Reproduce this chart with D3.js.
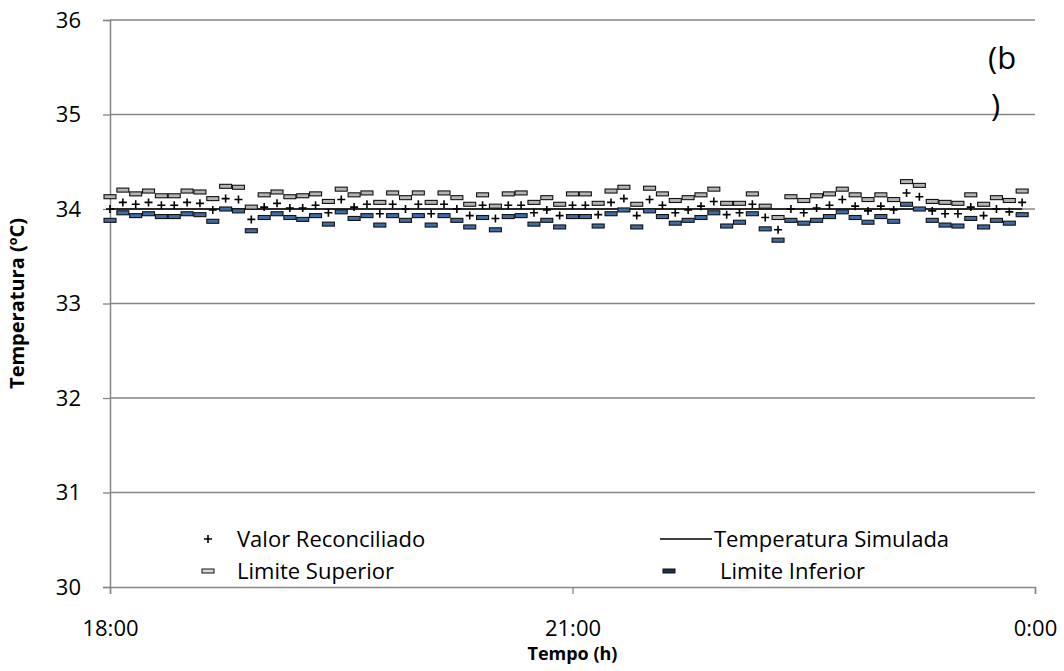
<!DOCTYPE html>
<html>
<head>
<meta charset="utf-8">
<script src="https://cdn.jsdelivr.net/npm/d3@7"></script>
<style>
  body { margin: 0; background: #fff; }
  svg text { font-family: "Open Sans", "Noto Sans", sans-serif; fill: #000; }
</style>
</head>
<body>
<svg id="chart" width="1064" height="671"></svg>
<script>
// minutes after 18:00, one reading every 5 min
var minutes = d3.range(0, 360, 5);

var reconciled = [
  34.00, 34.07, 34.05, 34.07, 34.04, 34.04, 34.07, 34.06, 33.99, 34.11,
  34.10, 33.89, 34.02, 34.06, 34.01, 34.01, 34.04, 33.96, 34.10, 34.02,
  34.05, 33.95, 34.05, 34.00, 34.05, 33.95, 34.05, 34.00, 33.93, 34.04,
  33.90, 34.04, 34.04, 33.96, 33.99, 33.93, 34.04, 34.04, 33.94, 34.07,
  34.11, 33.93, 34.10, 34.04, 33.96, 33.99, 34.03, 34.08, 33.94, 33.96,
  34.05, 33.91, 33.78, 34.00, 33.96, 34.01, 34.04, 34.10, 34.03, 33.98,
  34.03, 33.99, 34.17, 34.13, 33.98, 33.95, 33.95, 34.02, 33.93, 34.00,
  33.97, 34.07
];

var upper = [
  34.13, 34.20, 34.16, 34.19, 34.14, 34.14, 34.19, 34.18, 34.11, 34.24,
  34.23, 34.02, 34.15, 34.18, 34.13, 34.14, 34.16, 34.08, 34.21, 34.15,
  34.17, 34.07, 34.17, 34.12, 34.17, 34.07, 34.17, 34.12, 34.05, 34.15,
  34.03, 34.16, 34.17, 34.07, 34.12, 34.05, 34.16, 34.16, 34.06, 34.19,
  34.23, 34.05, 34.22, 34.16, 34.09, 34.12, 34.15, 34.21, 34.06, 34.06,
  34.16, 34.03, 33.91, 34.13, 34.09, 34.14, 34.16, 34.21, 34.15, 34.10,
  34.15, 34.10, 34.29, 34.25, 34.08, 34.07, 34.06, 34.15, 34.05, 34.12,
  34.09, 34.19
];

var lower = [
  33.88, 33.96, 33.93, 33.95, 33.92, 33.92, 33.95, 33.94, 33.87, 34.00,
  33.98, 33.77, 33.91, 33.95, 33.91, 33.89, 33.93, 33.84, 33.97, 33.90,
  33.93, 33.83, 33.93, 33.88, 33.93, 33.83, 33.93, 33.88, 33.81, 33.91,
  33.78, 33.92, 33.93, 33.84, 33.88, 33.81, 33.92, 33.92, 33.82, 33.95,
  33.99, 33.81, 33.98, 33.92, 33.85, 33.88, 33.91, 33.96, 33.82, 33.86,
  33.95, 33.79, 33.67, 33.88, 33.85, 33.88, 33.92, 33.97, 33.91, 33.86,
  33.92, 33.87, 34.05, 34.00, 33.88, 33.83, 33.82, 33.90, 33.81, 33.88,
  33.85, 33.94
];

var simulated = minutes.map(function () { return 34.0; });

var xTickValues = [0, 180, 360];
var xTickLabels = ["18:00", "21:00", "0:00"];
var yTickValues = [30, 31, 32, 33, 34, 35, 36];

var margin = {top: 20, right: 29, bottom: 84, left: 110},
    width = 1064 - margin.left - margin.right,
    height = 671 - margin.top - margin.bottom;

var x = d3.scaleLinear().domain([0, 360]).range([0, width]);
var y = d3.scaleLinear().domain([30, 36]).range([height, 0]);

var axisColor = "#868686";
var upperFill = "#b4b4b4";
var lowerFill = "#3e6ca6";

var svg = d3.select("#chart")
  .append("g")
  .attr("transform", "translate(" + margin.left + "," + margin.top + ")");

// horizontal gridlines
svg.append("g")
  .selectAll("line")
  .data(yTickValues.slice(1))
  .enter()
  .append("line")
  .attr("x1", 0).attr("x2", width)
  .attr("y1", function (d) { return y(d); })
  .attr("y2", function (d) { return y(d); })
  .attr("stroke", axisColor)
  .attr("stroke-width", 1.3);

// y axis
var yAxis = svg.append("g")
  .call(d3.axisLeft(y).tickValues(yTickValues).tickSize(7).tickPadding(22).tickFormat(d3.format("d")));
yAxis.selectAll("text").style("font-size", "22px");

// x axis
var xAxis = svg.append("g")
  .attr("transform", "translate(0," + height + ")")
  .call(d3.axisBottom(x).tickValues(xTickValues).tickSize(7).tickPadding(26)
    .tickFormat(function (d, i) { return xTickLabels[i]; }));
xAxis.selectAll("text").style("font-size", "22px");

[yAxis, xAxis].forEach(function (a) {
  a.select(".domain").attr("stroke", axisColor).attr("stroke-width", 1.5);
  a.selectAll(".tick line").attr("stroke", axisColor).attr("stroke-width", 1.3);
});

// simulated temperature line
svg.append("path")
  .datum(simulated)
  .attr("fill", "none")
  .attr("stroke", "#000")
  .attr("stroke-width", 1.3)
  .attr("d", d3.line()
    .x(function (d, i) { return x(minutes[i]); })
    .y(function (d) { return y(d); }));

// limit boxes
function boxes(values, fill) {
  svg.append("g")
    .selectAll("rect")
    .data(values)
    .enter()
    .append("rect")
    .attr("x", function (d, i) { return x(minutes[i]) - 6; })
    .attr("y", function (d) { return y(d) - 2; })
    .attr("width", 12)
    .attr("height", 4)
    .attr("fill", fill)
    .attr("stroke", "#111")
    .attr("stroke-width", 1.1);
}
boxes(upper, upperFill);
boxes(lower, lowerFill);

// reconciled values as plus marks
svg.append("g")
  .selectAll("path")
  .data(reconciled)
  .enter()
  .append("path")
  .attr("transform", function (d, i) { return "translate(" + x(minutes[i]) + "," + y(d) + ")"; })
  .attr("d", "M-4,0H4M0,-4V4")
  .attr("stroke", "#000")
  .attr("stroke-width", 1.6);

// axis titles
svg.append("text")
  .attr("x", width / 2)
  .attr("y", height + 73)
  .attr("text-anchor", "middle")
  .style("font-size", "18px")
  .style("font-weight", "bold")
  .text("Tempo (h)");

svg.append("text")
  .attr("transform", "translate(" + (-86) + "," + (height / 2) + ") rotate(-90)")
  .attr("text-anchor", "middle")
  .style("font-size", "20px")
  .style("font-weight", "bold")
  .text("Temperatura (ºC)");

// panel label
svg.append("text").attr("x", 878).attr("y", 49).style("font-size", "31px").text("(b");
svg.append("text").attr("x", 881).attr("y", 96).style("font-size", "31px").text(")");

// legend
var leg = svg.append("g");
var row1 = 519, row2 = 551, fs = "22px";
leg.append("path").attr("d", "M-4,0H4M0,-4V4")
  .attr("transform", "translate(98," + row1 + ")")
  .attr("stroke", "#000").attr("stroke-width", 1.6);
leg.append("text").attr("x", 127).attr("y", row1 + 8).style("font-size", fs).text("Valor Reconciliado");
leg.append("rect").attr("x", 92).attr("y", row2 - 2).attr("width", 12).attr("height", 4)
  .attr("fill", "#d9d9d9").attr("stroke", "#111");
leg.append("text").attr("x", 127).attr("y", row2 + 8).style("font-size", fs).text("Limite Superior");
leg.append("line").attr("x1", 550).attr("x2", 602).attr("y1", row1).attr("y2", row1)
  .attr("stroke", "#000").attr("stroke-width", 1.3);
leg.append("text").attr("x", 604).attr("y", row1 + 8).style("font-size", fs).text("Temperatura Simulada");
leg.append("rect").attr("x", 553).attr("y", row2 - 2).attr("width", 12).attr("height", 4)
  .attr("fill", "#1f3050").attr("stroke", "#111");
leg.append("text").attr("x", 610).attr("y", row2 + 8).style("font-size", fs).text("Limite Inferior");
</script>
</body>
</html>
